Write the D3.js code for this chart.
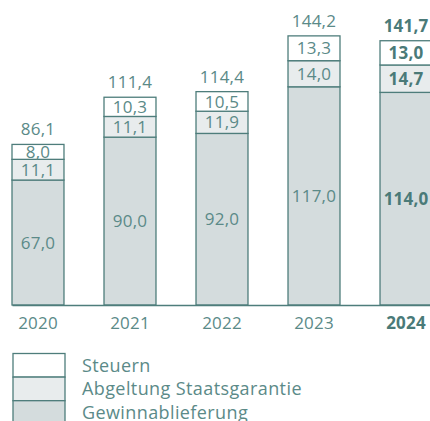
<!DOCTYPE html>
<html>
<head>
<meta charset="utf-8">
<script src="https://cdn.jsdelivr.net/npm/d3@7"></script>
<style>
  body { margin: 0; background: #fff; }
  svg text { font-family: "Open Sans", sans-serif; fill: #5b8a88; letter-spacing: 0.2px; }
  svg text.bold { fill: #4a7a78; font-weight: bold; }
</style>
</head>
<body>
<svg width="430" height="421"></svg>
<script>
var years = ["2020", "2021", "2022", "2023", "2024"];
var gewinn = [67.0, 90.0, 92.0, 117.0, 114.0];
var staatsgarantie = [11.1, 11.1, 11.9, 14.0, 14.7];
var steuern = [8.0, 10.3, 10.5, 13.3, 13.0];
var totals = [86.1, 111.4, 114.4, 144.2, 141.7];
var seriesNames = ["Steuern", "Abgeltung Staatsgarantie", "Gewinnablieferung"];
var boldYear = "2024";

var stroke = "#4e7d7b";
var fills = {"Gewinnablieferung": "#d4dcdd", "Abgeltung Staatsgarantie": "#e8eced", "Steuern": "#ffffff"};
var fontSize = 17;

var svg = d3.select("svg");

var x = d3.scaleBand().domain(years).range([12, 432]).paddingInner(0.435).paddingOuter(0);
var y = d3.scaleLinear().domain([0, 150]).range([305, 305 - 150 * 1.865]);

function fmt(v) { return v.toFixed(1).replace(".", ","); }

// build stacked rows
var data = years.map(function(yr, i) {
  return {year: yr, "Gewinnablieferung": gewinn[i], "Abgeltung Staatsgarantie": staatsgarantie[i], "Steuern": steuern[i], total: totals[i]};
});
var stack = d3.stack().keys(["Gewinnablieferung", "Abgeltung Staatsgarantie", "Steuern"]);
var layers = stack(data);

var g = svg.append("g");

layers.forEach(function(layer) {
  var key = layer.key;
  var grp = g.append("g");
  grp.selectAll("rect")
    .data(layer)
    .enter().append("rect")
    .attr("x", function(d) { return x(d.data.year); })
    .attr("y", function(d) { return y(d[1]); })
    .attr("width", x.bandwidth())
    .attr("height", function(d) { return y(d[0]) - y(d[1]); })
    .attr("fill", fills[key])
    .attr("stroke", stroke)
    .attr("stroke-width", 1.3);

  grp.selectAll("text")
    .data(layer)
    .enter().append("text")
    .attr("class", function(d) { return d.data.year == boldYear ? "bold" : null; })
    .attr("x", function(d) { return x(d.data.year) + x.bandwidth() / 2; })
    .attr("y", function(d) { return (y(d[0]) + y(d[1])) / 2; })
    .attr("dy", "0.36em")
    .attr("text-anchor", "middle")
    .attr("font-size", fontSize)
    .text(function(d) { return fmt(d.data[key]); });
});

// totals
g.selectAll(".total")
  .data(data)
  .enter().append("text")
  .attr("class", function(d) { return d.year == boldYear ? "total bold" : "total"; })
  .attr("x", function(d) { return x(d.year) + x.bandwidth() / 2; })
  .attr("y", function(d) { return y(d.total) - 9; })
  .attr("text-anchor", "middle")
  .attr("font-size", fontSize)
  .text(function(d) { return fmt(d.total); });

// x axis
var xAxis = svg.append("g")
  .attr("transform", "translate(0,305)")
  .call(d3.axisBottom(x).tickSize(0).tickSizeOuter(0).tickPadding(12));
xAxis.select(".domain").attr("stroke", stroke).attr("stroke-width", 1.5);
xAxis.selectAll("text")
  .attr("class", function(d) { return d == boldYear ? "bold" : null; })
  .attr("font-size", fontSize)
  .attr("font-family", "Open Sans, sans-serif")
  .attr("fill", null);

// legend
var legend = svg.append("g")
  .selectAll("g")
  .data(seriesNames)
  .enter().append("g")
  .attr("transform", function(d, i) { return "translate(13," + (353.5 + i * 23.6) + ")"; });

legend.append("rect")
  .attr("width", 52)
  .attr("height", 23.6)
  .attr("fill", function(d) { return fills[d]; })
  .attr("stroke", stroke)
  .attr("stroke-width", 1.3);

legend.append("text")
  .attr("x", 69)
  .attr("y", 18)
  .attr("font-size", 18)
  .style("letter-spacing", "0.4px")
  .text(function(d) { return d; });
</script>
</body>
</html>
